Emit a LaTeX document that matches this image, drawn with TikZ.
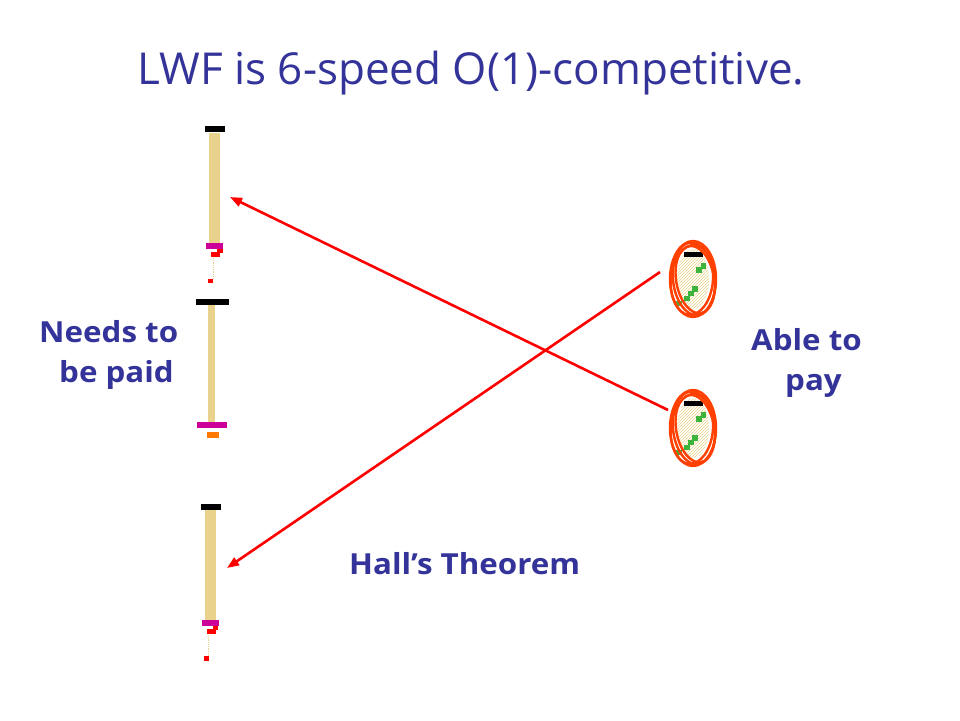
\documentclass[tikz,border=0pt]{standalone}
\usepackage{fontspec}
\setmainfont{Open Sans}
\newfontfamily\lblfont[FakeStretch=1.08]{Open Sans}
\usetikzlibrary{arrows.meta,patterns}
\definecolor{ttl}{RGB}{51,51,153}
\definecolor{tan}{RGB}{233,211,140}
\definecolor{mag}{RGB}{204,0,153}
\definecolor{ring}{RGB}{255,64,0}
\definecolor{grn}{RGB}{60,180,60}
\definecolor{org}{RGB}{255,120,0}
\tikzset{
  lbl/.style={text=ttl,font=\lblfont\bfseries\fontsize{29}{40}\selectfont,align=left,inner sep=0pt},
  arr/.style={draw=red,line width=2.6pt,-{Triangle[length=12pt,width=9pt]}},
  tanbar/.style={fill=tan,draw=none},
  capk/.style={fill=black,draw=none},
  capm/.style={fill=mag,draw=none},
  ringe/.style={draw=ring,line width=2.4pt},
}
\begin{document}
\begin{tikzpicture}[x=1pt,y=-1pt]
\useasboundingbox (0,0) rectangle (960,720);
\fill[white] (0,0) rectangle (960,720);
% title
\node[text=ttl,font=\fontsize{44}{50}\selectfont,inner sep=0pt] (title) at (471,73) {LWF is 6-speed O(1)-competitive.};
% bar 1
\fill[tanbar] (209,133) rectangle (220,243);
\node[inner sep=0pt,minimum width=11pt,minimum height=110pt] (bar1) at (214.5,188) {};
\fill[capk] (205,126) rectangle (225,132);
\fill[capm] (206,243) rectangle (223,249);
\fill[red] (217,249) rectangle (223,253);
\fill[red] (211,252) rectangle (220,257);
\draw[tan,densely dotted,line width=0.8pt] (213,258) -- (213,278);
\fill[red] (208,279) rectangle (213,283);
% bar 2
\fill[tanbar] (208,305) rectangle (215,422);
\node[inner sep=0pt,minimum width=7pt,minimum height=117pt] (bar2) at (211.5,363.5) {};
\fill[capk] (196,299) rectangle (229,305);
\fill[capm] (197,422) rectangle (227,428);
\fill[org] (207,432) rectangle (219,438);
% bar 3
\fill[tanbar] (205,510) rectangle (216,620);
\node[inner sep=0pt,minimum width=11pt,minimum height=110pt] (bar3) at (210.5,565) {};
\fill[capk] (201,504) rectangle (221,510);
\fill[capm] (202,620) rectangle (219,626);
\fill[red] (213,626) rectangle (218,630);
\fill[red] (207,629) rectangle (216,634);
\draw[tan,densely dotted,line width=0.8pt] (208,635) -- (208,655);
\fill[red] (204,656) rectangle (209,661);
% ellipses
\foreach \cy/\nm in {279/ellA,428/ellB}{
  \begin{scope}[shift={(693,\cy)}]
    \fill[white] (0,0) ellipse [x radius=17pt,y radius=31pt];
    \fill[pattern=north east lines,pattern color=tan] (0,0) ellipse [x radius=16pt,y radius=30pt];
    \fill[black] (-9,-27) rectangle (10,-22);
    \fill[grn] (8,-16) rectangle (13,-10);
    \fill[grn] (3,-12) rectangle (9,-6);
    \fill[grn] (-1,7) rectangle (5,13);
    \fill[grn] (-5,12) rectangle (1,17);
    \fill[grn] (-9,17) rectangle (-3,22);
    \fill[grn] (-17,22) rectangle (-11,27);
    \draw[ringe] (0,0) ellipse [x radius=23pt,y radius=38pt];
    \draw[ringe,rotate=6] (1,0) ellipse [x radius=21pt,y radius=36.5pt];
    \draw[ringe,rotate=-5] (-1,1) ellipse [x radius=21pt,y radius=35pt];
    \draw[ringe,rotate=10] (2,1) ellipse [x radius=19pt,y radius=34pt];
    \node[inner sep=0pt,minimum width=50pt,minimum height=78pt] (\nm) at (0,0) {};
  \end{scope}
}
% connector endpoints
\coordinate (s1) at (668,410);
\coordinate (t1) at (230,197);
\coordinate (s2) at (660,272);
\coordinate (t2) at (227,568);
\draw[arr] (s1) -- (t1);
\draw[arr] (s2) -- (t2);
% labels
\node[lbl,anchor=north west] (need) at (39,320) {Needs to\\\hspace*{20pt}be paid};
\node[lbl,anchor=north west] (able) at (751,328) {Able to\\\hspace*{34pt}pay};
\node[lbl,anchor=north west] (hall) at (349,552) {Hall’s Theorem};
\end{tikzpicture}
\end{document}
